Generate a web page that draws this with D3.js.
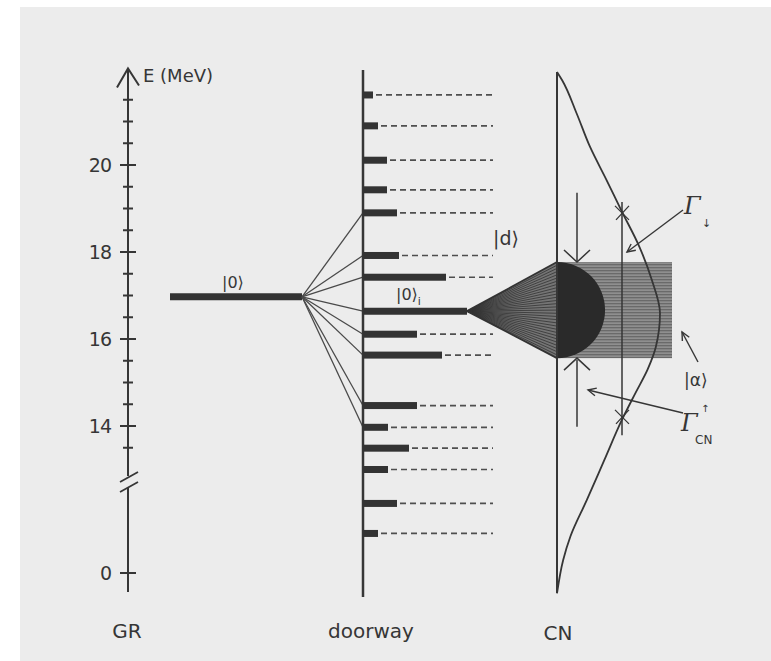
<!DOCTYPE html>
<html><head><meta charset="utf-8">
<script src="https://cdn.jsdelivr.net/npm/d3@7"></script>
<style>body{margin:0;background:#fff}</style>
</head><body><svg id="c" width="771" height="661"></svg>
<script>
// ---------- data (energies in MeV) ----------
const axisTicks = [13.5,14,14.5,15,15.5,16,16.5,17,17.5,18,18.5,19,19.5,20,20.5,21,21.5];
const tickLabels = [0,14,16,18,20];
const grE = 16.97;                       // |0> giant resonance level
const doorE = [21.61,20.90,20.11,19.43,18.90,17.92,17.42,16.11,15.63,14.47,13.97,13.49,13.00,12.22,11.53];
const doorStrength = [10,15,24,24,34,36,83,54,79,54,25,46,25,34,15];
const coupledE = [18.90,17.92,17.42,16.64,16.11,15.63,14.47,13.97];
const stateIE = 16.64;                   // |0>_i
const cnCurveE = [22.14,21.95,21.19,20.42,19.66,18.93,18.12,17.36,16.59,15.82,15.30,14.75,14.14,13.22,12.30,11.46,10.92,10.15];
const cnCurveV = [0.00,0.05,0.19,0.32,0.48,0.63,0.80,0.92,1.00,0.96,0.88,0.76,0.63,0.46,0.29,0.13,0.06,0.00];
const bandE = [17.77,15.56];             // spread of |d> into |alpha>
const gammaDownE = [19.15,13.79];        // vertical line of Gamma-down
const gammaMarkE = [18.90,14.21];
const dArrowTop = [19.36,17.77];
const dArrowBot = [13.98,15.52];

// ---------- scales ----------
const y = d3.scaleLinear().domain([14,20]).range([426,165]);
const yAxis = d3.scaleLinear().domain([0,13.2,22.22]).range([573,y(13.2),y(22.22)]);
const grX = 128, doorX = 363, cnX = 557;
const xDoor = d3.scaleLinear().domain([0,100]).range([doorX, doorX+100]);
const xCN = d3.scaleLinear().domain([0,1]).range([cnX, cnX+103]);

const svg = d3.select("#c");
const ink = "#363636";
svg.append("rect").attr("x",0).attr("y",0).attr("width",771).attr("height",661).attr("fill","#fff");
svg.append("rect").attr("x",20).attr("y",7).attr("width",751).attr("height",654).attr("fill","#ececec");

const defs = svg.append("defs");
const pat = defs.append("pattern").attr("id","hatch").attr("patternUnits","userSpaceOnUse").attr("width",6).attr("height",3);
pat.append("rect").attr("width",6).attr("height",3).attr("fill","#6a6a6a");
pat.append("rect").attr("y",1.6).attr("width",6).attr("height",1).attr("fill","#a8a8a8");

// ---------- GR axis ----------
const g = svg.append("g").attr("stroke",ink).attr("fill","none");
g.append("line").attr("x1",grX).attr("x2",grX).attr("y1",yAxis(22.22)).attr("y2",476).attr("stroke-width",2);
g.append("line").attr("x1",grX).attr("x2",grX).attr("y1",487).attr("y2",592).attr("stroke-width",2);
g.append("path").attr("d",`M${grX-11},${yAxis(22.22)+19}L${grX},${yAxis(22.22)}L${grX+11},${yAxis(22.22)+17}`).attr("stroke-width",2);
g.append("line").attr("x1",120).attr("y1",482).attr("x2",138).attr("y2",472).attr("stroke-width",1.8);
g.append("line").attr("x1",120).attr("y1",492).attr("x2",138).attr("y2",482).attr("stroke-width",1.8);
g.selectAll(".mt").data(axisTicks).join("line")
  .attr("x1",d=>tickLabels.includes(d)?grX-8:grX-5).attr("x2",d=>tickLabels.includes(d)?grX+8:grX+5)
  .attr("y1",d=>yAxis(d)).attr("y2",d=>yAxis(d)).attr("stroke-width",2);
g.append("line").attr("x1",grX-8).attr("x2",grX+8).attr("y1",yAxis(0)).attr("y2",yAxis(0)).attr("stroke-width",2);

const font = "DejaVu Sans, sans-serif";
svg.selectAll(".tl").data(tickLabels).join("text")
  .attr("x",111).attr("y",d=>yAxis(d)).attr("dy","0.36em").attr("text-anchor","end")
  .attr("font-family",font).attr("font-size",19).attr("fill",ink).attr("letter-spacing",-1).text(d=>d);
svg.append("text").attr("x",143).attr("y",82).attr("font-family",font).attr("font-size",18).attr("fill",ink).text("E (MeV)");

// |0> level
svg.append("line").attr("x1",170).attr("x2",302).attr("y1",y(grE)).attr("y2",y(grE)).attr("stroke","#333").attr("stroke-width",7);
svg.append("text").attr("x",222).attr("y",288).attr("font-family",font).attr("font-size",16).attr("fill",ink).text("|0⟩");

// couplings |0> -> doorway
svg.append("g").selectAll("line").data(coupledE).join("line")
  .attr("x1",302).attr("y1",y(grE)).attr("x2",doorX).attr("y2",d=>y(d))
  .attr("stroke","#4a4a4a").attr("stroke-width",1.3);

// ---------- doorway ----------
svg.append("line").attr("x1",doorX).attr("x2",doorX).attr("y1",70).attr("y2",597).attr("stroke",ink).attr("stroke-width",2.5);
const dd = doorE.map((e,i)=>({e, s:doorStrength[i]}));
svg.append("g").selectAll("line").data(dd).join("line")
  .attr("x1",d=>xDoor(d.s)+3).attr("x2",493).attr("y1",d=>y(d.e)).attr("y2",d=>y(d.e))
  .attr("stroke","#4e4e4e").attr("stroke-width",1.7).attr("stroke-dasharray","6,4");
svg.append("g").selectAll("rect").data(dd).join("rect")
  .attr("x",doorX).attr("y",d=>y(d.e)-3.5).attr("width",d=>xDoor(d.s)-doorX).attr("height",7).attr("fill","#333");

// |0>_i line
const apexX = xDoor(104);
svg.append("line").attr("x1",doorX).attr("x2",apexX).attr("y1",y(stateIE)).attr("y2",y(stateIE)).attr("stroke","#333").attr("stroke-width",7);
const t0 = svg.append("text").attr("x",396).attr("y",300).attr("font-family",font).attr("font-size",16).attr("fill",ink);
t0.append("tspan").text("|0⟩");
t0.append("tspan").attr("font-size",11).attr("dy",5).text("i");

// ---------- CN ----------
const yT = y(bandE[0]), yB = y(bandE[1]);
svg.append("rect").attr("x",cnX).attr("y",yT).attr("width",115).attr("height",yB-yT).attr("fill","url(#hatch)");
// fan
svg.append("path").attr("d",`M${apexX},${y(stateIE)}L${cnX},${yT}L${cnX},${yB}Z`).attr("fill","#747474");
const fanN = d3.range(0,1.0001,1/30);
svg.append("g").selectAll("line").data(fanN).join("line")
  .attr("x1",apexX).attr("y1",y(stateIE)).attr("x2",cnX).attr("y2",t=>yT+(yB-yT)*t)
  .attr("stroke","#333").attr("stroke-width",t=>(t===0||t>0.99)?1.8:0.8);
// semicircle of |d>
const r = (yB-yT)/2;
svg.append("path").attr("d",`M${cnX},${yT}A${r},${r} 0 0 1 ${cnX},${yB}Z`).attr("fill","#2a2a2a");

// CN axis
svg.append("line").attr("x1",cnX).attr("x2",cnX).attr("y1",72).attr("y2",593).attr("stroke",ink).attr("stroke-width",2);
// strength function curve
const pts = cnCurveE.map((e,i)=>[xCN(cnCurveV[i]), y(e)]);
svg.append("path").attr("d",d3.line().curve(d3.curveMonotoneY)(pts)).attr("fill","none").attr("stroke",ink).attr("stroke-width",1.8);

// Gamma-down vertical line and markers
const gx = 622;
svg.append("line").attr("x1",gx).attr("x2",gx).attr("y1",y(gammaDownE[0])).attr("y2",y(gammaDownE[1])).attr("stroke",ink).attr("stroke-width",1.5);
svg.append("g").selectAll("path").data(gammaMarkE).join("path")
  .attr("d",e=>`M${gx-7},${y(e)-7}L${gx+7},${y(e)+7}M${gx-6},${y(e)+7}L${gx+7},${y(e)-7}`)
  .attr("stroke",ink).attr("stroke-width",1.3).attr("fill","none");

// |d> width arrows
const ax = 577;
svg.append("line").attr("x1",ax).attr("x2",ax).attr("y1",y(dArrowTop[0])).attr("y2",y(dArrowTop[1])).attr("stroke",ink).attr("stroke-width",1.5);
svg.append("line").attr("x1",ax).attr("x2",ax).attr("y1",y(dArrowBot[0])).attr("y2",y(dArrowBot[1])).attr("stroke",ink).attr("stroke-width",1.5);
svg.append("path").attr("d",`M${ax-13},${yT-12}L${ax},${yT}L${ax+13},${yT-12}`).attr("stroke",ink).attr("stroke-width",1.5).attr("fill","none");
svg.append("path").attr("d",`M${ax-13},${yB+12}L${ax},${yB}L${ax+13},${yB+12}`).attr("stroke",ink).attr("stroke-width",1.5).attr("fill","none");

function arrow(x1,y1,x2,y2){
  const a = Math.atan2(y1-y2,x1-x2), L=9, s=0.45;
  svg.append("line").attr("x1",x1).attr("y1",y1).attr("x2",x2).attr("y2",y2).attr("stroke",ink).attr("stroke-width",1.4);
  svg.append("path").attr("d",`M${x2+L*Math.cos(a+s)},${y2+L*Math.sin(a+s)}L${x2},${y2}L${x2+L*Math.cos(a-s)},${y2+L*Math.sin(a-s)}`)
    .attr("stroke",ink).attr("stroke-width",1.4).attr("fill","none");
}
arrow(683,210,627,252);
arrow(698,362,682,332);
arrow(683,413,588,390);

// labels
svg.append("text").attr("x",493).attr("y",245).attr("font-family",font).attr("font-size",19).attr("fill",ink).text("|d⟩");
const serif = "DejaVu Serif, serif";
svg.append("text").attr("x",684).attr("y",214).attr("font-family",serif).attr("font-style","italic").attr("font-size",24).attr("fill",ink).text("Γ");
svg.append("text").attr("x",702).attr("y",227).attr("font-family",font).attr("font-size",11).attr("fill",ink).text("↓");
svg.append("text").attr("x",684).attr("y",386).attr("font-family",font).attr("font-size",17).attr("fill",ink).text("|α⟩");
svg.append("text").attr("x",681).attr("y",431).attr("font-family",serif).attr("font-style","italic").attr("font-size",24).attr("fill",ink).text("Γ");
svg.append("text").attr("x",701).attr("y",412).attr("font-family",font).attr("font-size",10).attr("fill",ink).text("↑");
svg.append("text").attr("x",695).attr("y",444).attr("font-family",font).attr("font-size",12).attr("fill",ink).text("CN");

// column titles
svg.append("text").attr("x",127).attr("y",638).attr("text-anchor","middle").attr("font-family",font).attr("font-size",20).attr("fill",ink).text("GR");
svg.append("text").attr("x",371).attr("y",638).attr("text-anchor","middle").attr("font-family",font).attr("font-size",20).attr("fill",ink).text("doorway");
svg.append("text").attr("x",558).attr("y",640).attr("text-anchor","middle").attr("font-family",font).attr("font-size",20).attr("fill",ink).text("CN");
</script></body></html>
